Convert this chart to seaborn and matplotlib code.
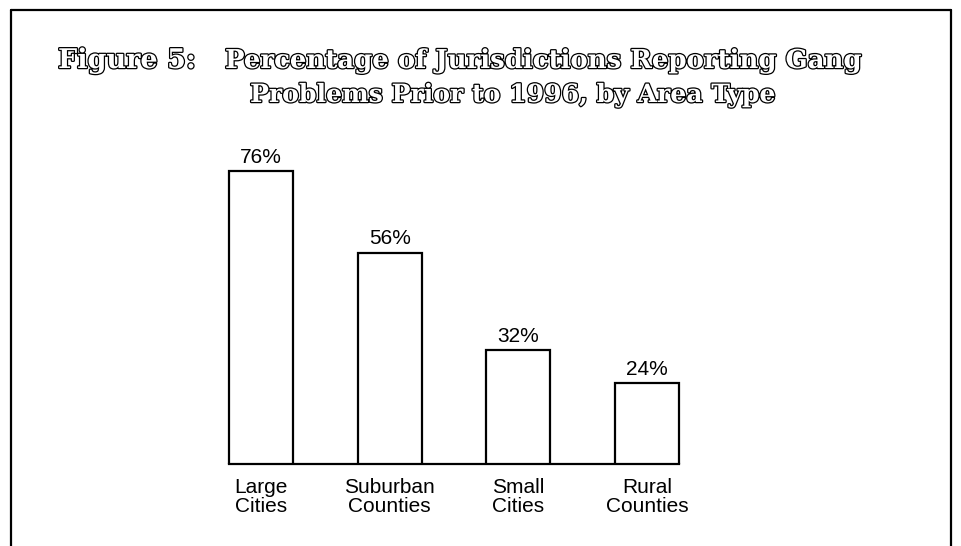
import matplotlib
matplotlib.use("Agg")
import matplotlib.pyplot as plt
import matplotlib.patheffects as pe
from matplotlib.lines import Line2D
import seaborn as sns
import pandas as pd

categories = ["Large\nCities", "Suburban\nCounties", "Small\nCities", "Rural\nCounties"]
values = [76, 56, 32, 24]
value_labels = ["76%", "56%", "32%", "24%"]
title_fig = "Figure 5:"
title_line1 = "Percentage of Jurisdictions Reporting Gang"
title_line2 = "Problems Prior to 1996, by Area Type"

sns.set_theme(style="white")
plt.rcParams['font.family'] = ['Liberation Sans', 'DejaVu Sans']

W, H = 961, 546
fig = plt.figure(figsize=(W / 100, H / 100), dpi=100)
fig.patch.set_facecolor("white")

# axes placement (pixels)
pad_px = 3
ax_left, ax_right = 229 - pad_px, 679 + pad_px
ax_bottom, ax_top = 464, 155
ax = fig.add_axes([ax_left / W, (H - ax_bottom) / H, (ax_right - ax_left) / W, (ax_bottom - ax_top) / H])

df = pd.DataFrame({"cat": categories, "val": values})
sns.barplot(data=df, x="cat", y="val", ax=ax, color="white", width=0.5,
            edgecolor="black", linewidth=1.6, saturation=1)

unit = 3.5 / 450
ax.set_xlim(-0.25 - pad_px * unit, 3.25 + pad_px * unit)
ax.set_ylim(4, 80)
for s in ["top", "right", "left"]:
    ax.spines[s].set_visible(False)
ax.spines["bottom"].set_color("black")
ax.spines["bottom"].set_linewidth(1.6)
ax.spines["bottom"].set_bounds(-0.25, 3.25)
ax.set_yticks([])
ax.set_xlabel("")
ax.set_ylabel("")
ax.tick_params(axis="x", length=0, pad=10, labelsize=15, colors="black")
for t in ax.get_xticklabels():
    t.set_linespacing(1.02)
    t.set_ha("center")

ax.bar_label(ax.containers[0], labels=value_labels, padding=3, fontsize=15, color="black")

# title with outlined lettering
outline = [pe.withStroke(linewidth=1.8, foreground="black")]
tkw = dict(va="baseline", family="DejaVu Serif", fontweight="bold",
           color="white", path_effects=outline)
fig.text(127 / W, (H - 68) / H, title_fig, fontsize=19.5, ha="center", **tkw)
fig.text(225 / W, (H - 68) / H, title_line1, fontsize=18.7, ha="left", **tkw)
fig.text(250 / W, (H - 102) / H, title_line2, fontsize=18.1, ha="left", **tkw)

# frame lines
fl, fr, ft = 11 / W, 951 / W, (H - 10) / H
for xs, ys in [([fl, fr], [ft, ft]), ([fl, fl], [ft, 0]), ([fr, fr], [ft, 0])]:
    fig.add_artist(Line2D(xs, ys, transform=fig.transFigure, color="black", linewidth=1.6))

fig.savefig("out.png", dpi=100, facecolor="white")
